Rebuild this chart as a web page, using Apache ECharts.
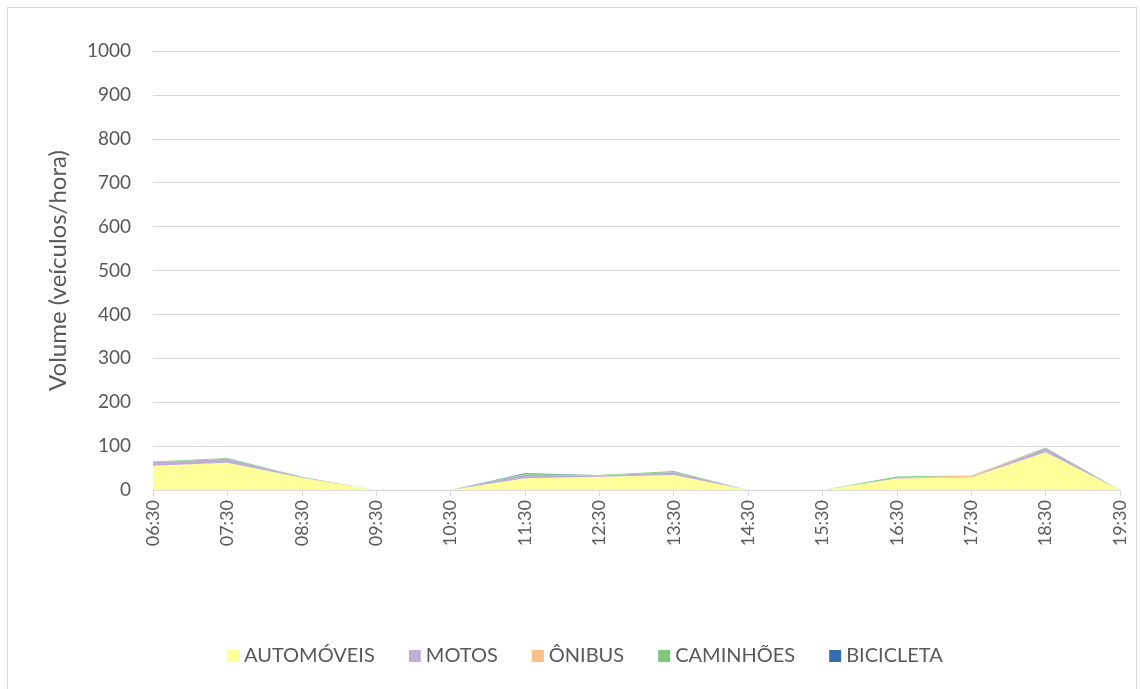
<!DOCTYPE html>
<html><head><meta charset="utf-8">
<script src="https://cdn.jsdelivr.net/npm/echarts@6/dist/echarts.min.js"></script>
<style>
html,body{margin:0;padding:0;background:#fff;}
#c{width:1140px;height:689px;position:absolute;left:0;top:0;}
#b{position:absolute;left:7px;top:7px;width:1130px;height:690px;border:1px solid #d9d9d9;box-sizing:border-box;pointer-events:none;}
</style></head>
<body>
<div id="c"></div><div id="b"></div>
<script>
const categories = ['06:30','07:30','08:30','09:30','10:30','11:30','12:30','13:30','14:30','15:30','16:30','17:30','18:30','19:30'];
const automoveis = [55, 62, 28, 0, 0, 27, 30, 34, 0, 0, 26, 29, 86, 0];
const motos      = [ 8,  9,  1, 0, 0,  8,  3,  7, 0, 0,  2,  1,  9, 0];
const onibus     = [ 0,  0,  0, 0, 0,  0,  0,  0, 0, 0,  0,  3,  0, 0];
const caminhoes  = [ 2,  2,  1, 0, 0,  2,  1,  2, 0, 0,  3,  0,  2, 0];
const bicicleta  = [ 0,  0,  0, 0, 0,  1,  0,  0, 0, 0,  0,  0,  0, 0];
const yTicks = [0,100,200,300,400,500,600,700,800,900,1000];

const names = ['AUTOMÓVEIS','MOTOS','ÔNIBUS','CAMINHÕES','BICICLETA'];
const colors = ['#ffff99','#beaed4','#fdc086','#7fc97f','#386cb0'];
const datasets = [automoveis, motos, onibus, caminhoes, bicicleta];
const font = 'Lato, "Open Sans", sans-serif';

const chart = echarts.init(document.getElementById('c'), null, {renderer:'canvas'});
chart.setOption({
  animation:false,
  color: colors,
  textStyle:{fontFamily:font},
  grid:{left:153, right:20, top:51, bottom:199, containLabel:false},
  legend:{
    bottom:18, left:222,
    itemWidth:12, itemHeight:12, itemGap:34,
    icon:'rect',
    textStyle:{color:'#595959', fontSize:20, fontFamily:font},
    data:names
  },
  xAxis:{
    type:'category', data:categories, boundaryGap:false,
    axisLine:{lineStyle:{color:'#d9d9d9', width:1}},
    axisTick:{show:true, alignWithLabel:true, length:6, lineStyle:{color:'#d9d9d9'}},
    axisLabel:{rotate:90, color:'#595959', fontSize:18, margin:10, fontFamily:font, interval:0},
    splitLine:{show:false}
  },
  yAxis:{
    type:'value', min:0, max:1000, interval:100,
    name:'Volume (veículos/hora)', nameLocation:'middle', nameGap:83,
    nameTextStyle:{color:'#595959', fontSize:24, fontFamily:font},
    axisLine:{show:false}, axisTick:{show:false},
    axisLabel:{color:'#595959', fontSize:19, margin:22, fontFamily:font,
      formatter:v=>yTicks.includes(v)?String(v):''},
    splitLine:{lineStyle:{color:'#d9d9d9', width:1}}
  },
  series: names.map((n,i)=>({
    name:n, type:'line', stack:'total', data:datasets[i],
    symbol:'none', lineStyle:{width:0}, areaStyle:{color:colors[i], opacity:1},
    itemStyle:{color:colors[i]}
  }))
});
</script>
</body></html>
